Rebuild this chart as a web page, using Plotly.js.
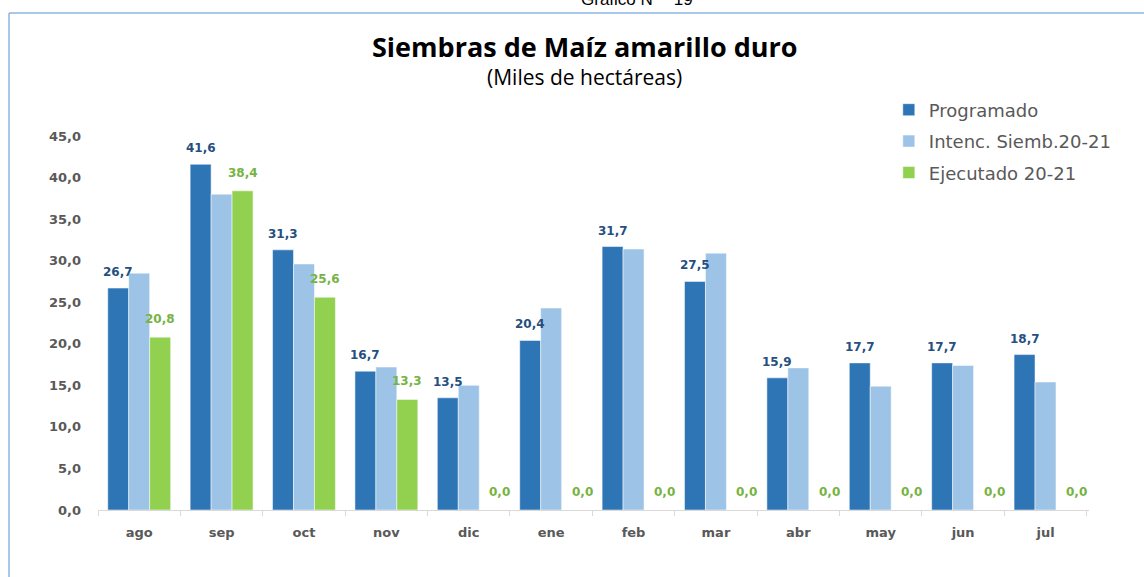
<!DOCTYPE html>
<html>
<head>
<meta charset="utf-8">
<script src="https://cdn.plot.ly/plotly-3.0.1.min.js"></script>
<style>html,body{margin:0;padding:0;background:#fff;}</style>
</head>
<body>
<div id="chart" style="width:1144px;height:577px;"></div>
<script>
const categories = ["ago","sep","oct","nov","dic","ene","feb","mar","abr","may","jun","jul"];
const programado = [26.7, 41.6, 31.3, 16.7, 13.5, 20.4, 31.7, 27.5, 15.9, 17.7, 17.7, 18.7];
const intencion  = [28.5, 38.0, 29.6, 17.2, 15.0, 24.3, 31.4, 30.9, 17.1, 14.9, 17.4, 15.4];
const ejecutado  = [20.8, 38.4, 25.6, 13.3, 0.0, 0.0, 0.0, 0.0, 0.0, 0.0, 0.0, 0.0];
const seriesNames = ["Programado", "Intenc. Siemb.20-21", "Ejecutado 20-21"];

const cDark = "#2E75B6", cLight = "#9DC3E6", cGreen = "#92D050";
const lblDark = "#264F7F", lblGreen = "#76B343";

function fmt(v){ return v.toFixed(1).replace(".", ","); }

const traces = [
  {type:"bar", name:seriesNames[0], legendgroup:"g1", x:categories, y:programado, marker:{color:cDark, line:{color:"rgba(255,255,255,0.5)", width:1}}, hoverinfo:"y"},
  {type:"bar", name:seriesNames[1], legendgroup:"g2", x:categories, y:intencion, marker:{color:cLight, line:{color:"rgba(255,255,255,0.5)", width:1}}, hoverinfo:"y"},
  {type:"bar", name:seriesNames[2], legendgroup:"g3", x:categories, y:ejecutado, marker:{color:cGreen, line:{color:"rgba(255,255,255,0.5)", width:1}}, hoverinfo:"y"}
];

const annotations = [];
categories.forEach((c, i) => {
  annotations.push({x:c, y:programado[i], xref:"x", yref:"y", text:fmt(programado[i]), showarrow:false,
    xshift:-21, yshift:16, yanchor:"middle", font:{family:"DejaVu Sans", size:12, color:lblDark, weight:"bold"}});
  annotations.push({x:c, y:ejecutado[i], xref:"x", yref:"y", text:fmt(ejecutado[i]), showarrow:false,
    xshift: ejecutado[i] === 0 ? 31 : 21, yshift:18, yanchor:"middle", font:{family:"DejaVu Sans", size:12, color:lblGreen, weight:"bold"}});
});

// Titles
annotations.push({xref:"paper", yref:"paper", x:0.4914, y:1.238, yanchor:"middle", showarrow:false,
  text:"<b>Siembras de Maíz amarillo duro</b>", font:{family:"Open Sans", size:27, color:"#000"}});
annotations.push({xref:"paper", yref:"paper", x:0.4914, y:1.158, yanchor:"middle", showarrow:false,
  text:"(Miles de hectáreas)", font:{family:"Open Sans", size:21, color:"#000"}});
annotations.push({xref:"paper", yref:"paper", x:0.544, y:1.366, yanchor:"middle", showarrow:false,
  text:"Gráfico N°   19", font:{family:"Liberation Sans", size:17, color:"#000"}});

const layout = {
  width:1144, height:577,
  margin:{l:98, r:55, t:136, b:67},
  paper_bgcolor:"#fff", plot_bgcolor:"#fff",
  separators:",.",
  barmode:"group", bargap:0.237, bargroupgap:0,
  showlegend:true,
  legend:{x:0.798, y:1.119, xanchor:"left", yanchor:"top", bgcolor:"rgba(0,0,0,0)",
    font:{family:"DejaVu Sans", size:18, color:"#595959"}, tracegroupgap:5, traceorder:"grouped"},
  xaxis:{type:"category", showline:true, linecolor:"#D9D9D9", linewidth:1,
    ticks:"outside", tickson:"boundaries", ticklen:5, tickcolor:"#D9D9D9",
    showgrid:false, zeroline:false, ticklabelstandoff:10,
    tickfont:{family:"DejaVu Sans", size:13, color:"#595959", weight:"bold"}},
  yaxis:{range:[0,45], dtick:5, tick0:0, tickformat:".1f", showgrid:false, zeroline:false,
    showline:false, ticks:"", ticklabelstandoff:16,
    tickfont:{family:"DejaVu Sans", size:13, color:"#595959", weight:"bold"}},
  annotations:annotations,
  shapes:[
    {type:"line", xref:"paper", yref:"paper", x0:-0.0898, x1:1.07, y0:1.329, y1:1.329, line:{color:"#8DB4E2", width:1.5}},
    {type:"line", xref:"paper", yref:"paper", x0:-0.0898, x1:-0.0898, y0:1.329, y1:-0.2, line:{color:"#8DB4E2", width:1.5}}
  ]
};

Plotly.newPlot("chart", traces, layout, {displayModeBar:false, staticPlot:true});
</script>
</body>
</html>
